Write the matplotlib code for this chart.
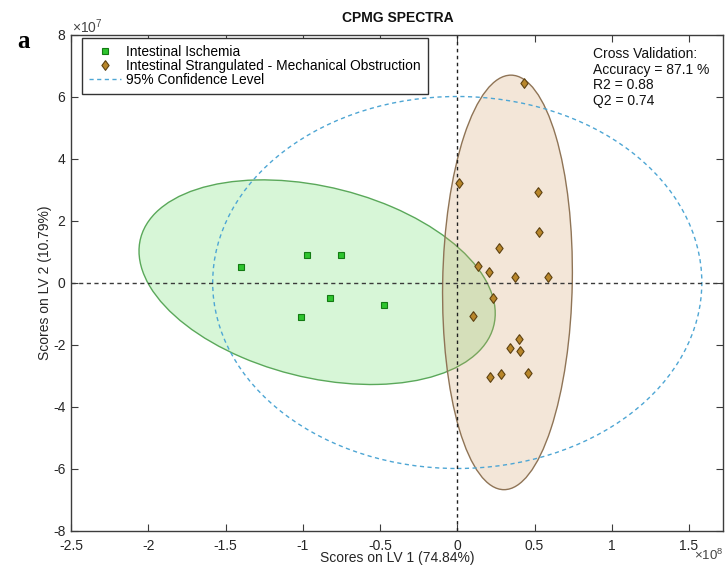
import numpy as np
import matplotlib
matplotlib.use("Agg")
import matplotlib.pyplot as plt
from matplotlib.patches import Ellipse
from matplotlib.lines import Line2D
from matplotlib.ticker import FixedLocator, FuncFormatter

plt.rcParams["font.family"] = ["Liberation Sans", "DejaVu Sans"]
plt.rcParams["mathtext.fontset"] = "custom"
plt.rcParams["mathtext.rm"] = "Liberation Sans"
plt.rcParams["mathtext.it"] = "Liberation Sans:italic"
plt.rcParams["axes.unicode_minus"] = False

# PLS-DA scores (LV1 in units of 1e8, LV2 in units of 1e7)
ischemia_lv1 = [-1.402, -0.972, -0.754, -0.821, -0.473, -1.011]
ischemia_lv2 = [0.514, 0.902, 0.902, -0.498, -0.734, -1.122]

strangulated_lv1 = [0.432, 0.013, 0.521, 0.527, 0.268, 0.136, 0.203, 0.371, 0.590,
                    0.231, 0.104, 0.397, 0.342, 0.404, 0.460, 0.283, 0.214]
strangulated_lv2 = [6.444, 3.198, 2.907, 1.613, 1.128, 0.546, 0.352, 0.191, 0.171,
                    -0.508, -1.070, -1.833, -2.114, -2.221, -2.913, -2.965, -3.042]

# group confidence regions: centre and shape matrix (x^T S^-1 x = 1)
ischemia_center = [-0.907, 0.01]
ischemia_shape = [[1.329, -1.16], [-1.16, 10.89]]
strangulated_center = [0.325, 0.003]
strangulated_shape = [[0.1764, 0.15], [0.15, 44.7]]

# 95% confidence level of the whole model
conf_center = [0.0, 0.0]
conf_semi_axes = [1.583, 6.0]

x_ticks = [-2.5, -2, -1.5, -1, -0.5, 0, 0.5, 1, 1.5]
y_ticks = [-8, -6, -4, -2, 0, 2, 4, 6, 8]
x_limits = [-2.5, 1.72]
y_limits = [-8, 8]

labels = ["Intestinal Ischemia",
          "Intestinal Strangulated - Mechanical Obstruction",
          "95% Confidence Level"]
title = "CPMG SPECTRA"
x_label = "Scores on LV 1 (74.84%)"
y_label = "Scores on LV 2 (10.79%)"
stats_text = "Cross Validation:\nAccuracy = 87.1 %\nR2 = 0.88\nQ2 = 0.74"

W, H = 726, 566
fig = plt.figure(figsize=(W / 100, H / 100), dpi=100)
ax_l, ax_r, ax_t, ax_b = 71, 723, 34.5, 530.5
ax = fig.add_axes([ax_l / W, 1 - ax_b / H, (ax_r - ax_l) / W, (ax_b - ax_t) / H])

axis_col = "#3c3c3c"
green_face = (0.30, 0.85, 0.30, 0.22)
green_edge = "#5aa85a"
brown_face = (0.82, 0.62, 0.40, 0.25)
brown_edge = "#8f7456"
blue_col = "#4ea6d4"

# slightly tall diamond marker
diamond = [(0, 1.0), (0.74, 0), (0, -1.0), (-0.74, 0), (0, 1.0)]
sq_style = dict(linestyle="none", marker="s", markersize=5.0, markerfacecolor="#2ec42e",
                markeredgecolor="#137a13", markeredgewidth=0.8)
dm_style = dict(linestyle="none", marker=diamond, markersize=7.0, markerfacecolor="#b8862a",
                markeredgecolor="#5e4212", markeredgewidth=0.8)


def shape_ellipse(center, shape, **kw):
    vals, vecs = np.linalg.eigh(np.asarray(shape, dtype=float))
    major = vecs[:, 1]
    angle = np.degrees(np.arctan2(major[1], major[0]))
    return Ellipse(center, 2 * np.sqrt(vals[1]), 2 * np.sqrt(vals[0]),
                   angle=angle, **kw)


ax.add_patch(shape_ellipse(ischemia_center, ischemia_shape, facecolor=green_face,
                           edgecolor=green_edge, lw=1.0, zorder=1))
ax.add_patch(shape_ellipse(strangulated_center, strangulated_shape, facecolor=brown_face,
                           edgecolor=brown_edge, lw=1.0, zorder=1.1))

ax.add_patch(Ellipse(conf_center, 2 * conf_semi_axes[0], 2 * conf_semi_axes[1],
                     facecolor="none", edgecolor=blue_col, lw=1.0,
                     linestyle=(0, (3, 2.5)), zorder=2))

ax.axhline(0, color="#3a3a3a", lw=1.0, linestyle=(0, (3, 2.5)), zorder=2.5)
ax.axvline(0, color="#202020", lw=1.0, linestyle=(0, (2.5, 2.5)), zorder=2.5)

ax.plot(ischemia_lv1, ischemia_lv2, zorder=4, **sq_style)
ax.plot(strangulated_lv1, strangulated_lv2, zorder=4, **dm_style)

ax.set_xlim(x_limits)
ax.set_ylim(y_limits)
ax.xaxis.set_major_locator(FixedLocator(x_ticks))
ax.yaxis.set_major_locator(FixedLocator(y_ticks))
fmt = FuncFormatter(lambda v, _: f"{v:g}")
ax.xaxis.set_major_formatter(fmt)
ax.yaxis.set_major_formatter(fmt)
ax.tick_params(direction="in", length=5, width=0.8, color=axis_col, labelcolor="#262626",
               labelsize=10, top=True, right=True)
ax.tick_params(axis="x", pad=6)
ax.tick_params(axis="y", pad=4)
for sp in ax.spines.values():
    sp.set_color(axis_col)
    sp.set_linewidth(1.0)

ax.set_xlabel(x_label, fontsize=10, color="#262626", labelpad=-1)
ax.set_ylabel(y_label, fontsize=10, color="#262626", labelpad=1)

ax.text(0.002, 0.996, r"$\times10^{7}$", transform=ax.transAxes, ha="left", va="bottom",
        fontsize=10, color="#444444")
ax.text(1.0, -0.034, r"$\times10^{8}$", transform=ax.transAxes,
        ha="right", va="top", fontsize=9.5, color="#444444")

ax.text((593 - ax_l) / (ax_r - ax_l), 1 - (47 - ax_t) / (ax_b - ax_t), stats_text,
        transform=ax.transAxes, ha="left", va="top", fontsize=10, linespacing=1.14,
        color="#111111")

handles = [Line2D([], [], **sq_style), Line2D([], [], **dm_style),
           Line2D([], [], color=blue_col, lw=1.0, linestyle=(0, (3, 2.5)))]
leg = ax.legend(handles, labels, loc="upper left",
                bbox_to_anchor=((82 - ax_l) / (ax_r - ax_l), 1 - (38 - ax_t) / (ax_b - ax_t)),
                borderaxespad=0, fancybox=False, framealpha=1, edgecolor="#333333",
                fontsize=9.9, handlelength=2.3, handletextpad=0.4, borderpad=0.5,
                labelspacing=0.0)
leg.get_frame().set_linewidth(1.0)
leg.set_zorder(6)

fig.text(398 / W, 1 - 18 / H, title, ha="center", va="center", fontsize=10,
         fontweight="bold", color="#111111")
fig.text(17 / W, 1 - 42 / H, "a", ha="left", va="center", fontsize=18,
         fontweight="bold", family="Liberation Serif", color="black")

fig.savefig("out.png", dpi=100)
